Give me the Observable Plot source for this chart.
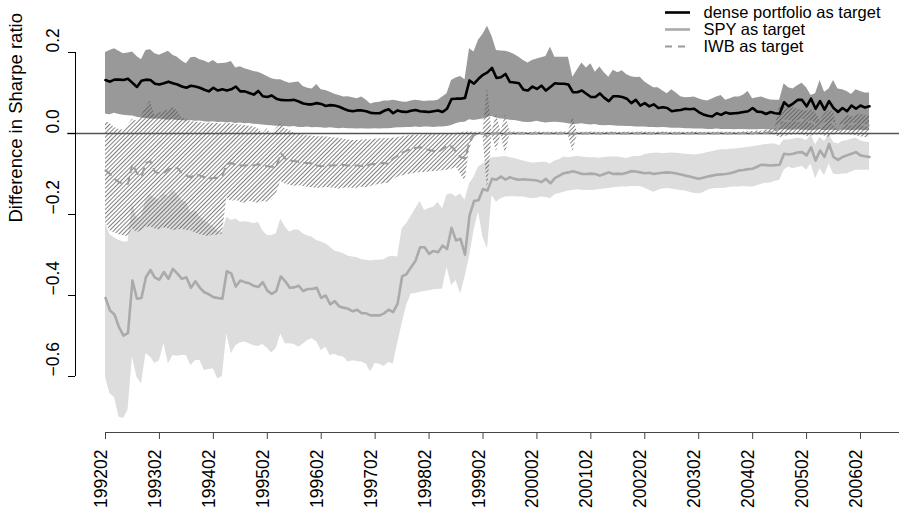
<!DOCTYPE html>
<html><head><meta charset="utf-8">
<script src="https://cdn.jsdelivr.net/npm/d3@7"></script>
<script src="https://cdn.jsdelivr.net/npm/@observablehq/plot@0.6"></script>
<style>html,body{margin:0;padding:0;background:#fff;} #chart svg{display:block}</style>
</head><body><div id="chart"></div>
<script>
// Monthly observations, 1992-02 (index 0) to 2006-04 (index 170)
const dense = [
0.132,0.128,0.133,0.133,0.132,0.135,0.125,0.115,0.130,0.133,
0.132,0.123,0.121,0.124,0.128,0.124,0.121,0.116,0.113,0.118,
0.116,0.113,0.108,0.104,0.113,0.106,0.109,0.106,0.109,0.116,
0.104,0.104,0.100,0.096,0.105,0.092,0.090,0.094,0.086,0.083,
0.082,0.082,0.083,0.079,0.074,0.072,0.072,0.075,0.073,0.068,
0.070,0.069,0.066,0.061,0.057,0.055,0.057,0.057,0.055,0.051,
0.050,0.050,0.056,0.060,0.050,0.057,0.054,0.053,0.056,0.058,
0.055,0.054,0.053,0.055,0.057,0.053,0.061,0.085,0.086,0.086,
0.088,0.131,0.123,0.135,0.145,0.151,0.162,0.137,0.139,0.147,
0.127,0.126,0.124,0.108,0.106,0.116,0.110,0.118,0.106,0.115,
0.124,0.123,0.123,0.121,0.102,0.102,0.106,0.098,0.090,0.090,
0.099,0.088,0.080,0.092,0.092,0.090,0.086,0.075,0.083,0.069,
0.075,0.067,0.072,0.063,0.065,0.063,0.055,0.057,0.058,0.061,
0.060,0.061,0.053,0.047,0.044,0.042,0.050,0.046,0.052,0.049,
0.050,0.051,0.053,0.055,0.063,0.054,0.053,0.048,0.053,0.050,
0.049,0.077,0.067,0.074,0.083,0.083,0.067,0.086,0.061,0.080,
0.059,0.080,0.063,0.053,0.063,0.055,0.069,0.061,0.069,0.064,
0.067];
const denseHi = [
0.200,0.205,0.209,0.203,0.197,0.199,0.201,0.190,0.182,0.205,
0.207,0.197,0.193,0.198,0.203,0.193,0.188,0.179,0.172,0.187,
0.188,0.182,0.179,0.174,0.180,0.172,0.173,0.174,0.178,0.162,
0.165,0.160,0.157,0.153,0.151,0.146,0.141,0.135,0.133,0.133,
0.128,0.124,0.126,0.127,0.116,0.112,0.110,0.121,0.108,0.106,
0.102,0.097,0.094,0.090,0.091,0.088,0.086,0.090,0.083,0.073,
0.076,0.077,0.080,0.080,0.082,0.080,0.078,0.077,0.080,0.082,
0.081,0.079,0.080,0.080,0.082,0.090,0.098,0.131,0.137,0.141,
0.133,0.209,0.201,0.230,0.245,0.265,0.240,0.205,0.204,0.203,
0.200,0.195,0.188,0.180,0.174,0.180,0.184,0.187,0.190,0.213,
0.188,0.188,0.188,0.188,0.139,0.157,0.174,0.162,0.172,0.151,
0.164,0.150,0.139,0.156,0.150,0.155,0.145,0.140,0.138,0.139,
0.127,0.120,0.113,0.113,0.105,0.098,0.108,0.100,0.091,0.088,
0.089,0.090,0.086,0.082,0.080,0.085,0.090,0.094,0.082,0.086,
0.090,0.090,0.095,0.104,0.086,0.088,0.090,0.086,0.083,0.082,
0.082,0.123,0.113,0.110,0.118,0.124,0.113,0.094,0.098,0.131,
0.102,0.110,0.131,0.110,0.108,0.104,0.096,0.108,0.104,0.100,
0.100];
const denseLo = [
0.048,0.046,0.050,0.047,0.045,0.044,0.043,0.040,0.038,0.037,
0.036,0.035,0.036,0.034,0.033,0.034,0.032,0.032,0.031,0.032,
0.030,0.031,0.029,0.028,0.029,0.027,0.028,0.026,0.027,0.025,
0.026,0.024,0.025,0.023,0.022,0.021,0.020,0.019,0.018,0.018,
0.017,0.016,0.017,0.015,0.015,0.016,0.014,0.015,0.014,0.013,
0.014,0.013,0.012,0.013,0.012,0.012,0.011,0.012,0.011,0.011,
0.012,0.011,0.012,0.012,0.013,0.014,0.014,0.015,0.015,0.016,
0.015,0.016,0.016,0.015,0.016,0.016,0.017,0.020,0.024,0.027,
0.028,0.034,0.032,0.034,0.036,0.040,0.042,0.038,0.036,0.035,
0.033,0.032,0.030,0.028,0.027,0.028,0.030,0.028,0.026,0.027,
0.028,0.027,0.026,0.024,0.022,0.023,0.024,0.022,0.021,0.022,
0.020,0.019,0.020,0.019,0.018,0.018,0.017,0.017,0.016,0.016,
0.016,0.015,0.015,0.014,0.015,0.014,0.013,0.013,0.013,0.012,
0.012,0.011,0.011,0.011,0.010,0.010,0.011,0.010,0.010,0.010,
0.009,0.010,0.010,0.009,0.009,0.009,0.010,0.009,0.009,0.008,
0.008,0.010,0.008,0.008,0.009,0.008,0.008,0.007,0.008,0.009,
0.007,0.008,0.008,0.007,0.008,0.008,0.007,0.008,0.008,0.007,
0.008];
const spy = [
-0.406,-0.437,-0.447,-0.478,-0.499,-0.493,-0.363,-0.408,-0.406,-0.355,
-0.337,-0.356,-0.361,-0.342,-0.359,-0.334,-0.346,-0.359,-0.355,-0.381,
-0.365,-0.381,-0.392,-0.397,-0.404,-0.406,-0.408,-0.340,-0.346,-0.378,
-0.363,-0.367,-0.370,-0.376,-0.379,-0.367,-0.388,-0.396,-0.389,-0.353,
-0.365,-0.381,-0.380,-0.376,-0.389,-0.384,-0.384,-0.381,-0.406,-0.400,
-0.422,-0.414,-0.427,-0.430,-0.433,-0.439,-0.435,-0.444,-0.444,-0.449,
-0.449,-0.449,-0.444,-0.435,-0.441,-0.420,-0.353,-0.347,-0.330,-0.314,
-0.281,-0.281,-0.297,-0.290,-0.293,-0.277,-0.285,-0.233,-0.264,-0.260,
-0.299,-0.203,-0.167,-0.165,-0.137,-0.141,-0.112,-0.114,-0.106,-0.114,
-0.108,-0.112,-0.114,-0.113,-0.114,-0.115,-0.116,-0.120,-0.112,-0.123,
-0.110,-0.104,-0.098,-0.096,-0.093,-0.096,-0.100,-0.100,-0.099,-0.100,
-0.104,-0.100,-0.096,-0.100,-0.099,-0.100,-0.097,-0.093,-0.094,-0.096,
-0.098,-0.097,-0.100,-0.098,-0.097,-0.096,-0.097,-0.099,-0.101,-0.104,
-0.106,-0.109,-0.112,-0.109,-0.106,-0.104,-0.102,-0.101,-0.100,-0.098,
-0.095,-0.091,-0.090,-0.088,-0.087,-0.082,-0.077,-0.078,-0.079,-0.078,
-0.077,-0.050,-0.052,-0.050,-0.047,-0.046,-0.054,-0.034,-0.067,-0.042,
-0.058,-0.026,-0.058,-0.065,-0.058,-0.054,-0.050,-0.046,-0.054,-0.056,
-0.058];
const spyHi = [
-0.222,-0.250,-0.258,-0.264,-0.268,-0.268,-0.174,-0.210,-0.205,-0.165,
-0.150,-0.160,-0.165,-0.150,-0.155,-0.140,-0.150,-0.165,-0.170,-0.195,
-0.190,-0.205,-0.215,-0.222,-0.230,-0.240,-0.244,-0.207,-0.215,-0.211,
-0.219,-0.218,-0.219,-0.223,-0.219,-0.240,-0.252,-0.252,-0.248,-0.211,
-0.231,-0.244,-0.238,-0.238,-0.248,-0.253,-0.256,-0.264,-0.268,-0.272,
-0.281,-0.290,-0.293,-0.297,-0.303,-0.305,-0.307,-0.311,-0.313,-0.315,
-0.313,-0.313,-0.312,-0.305,-0.303,-0.305,-0.235,-0.223,-0.205,-0.186,
-0.168,-0.190,-0.185,-0.182,-0.170,-0.186,-0.152,-0.149,-0.157,-0.149,
-0.165,-0.124,-0.108,-0.083,-0.075,-0.067,-0.060,-0.059,-0.058,-0.057,
-0.060,-0.062,-0.065,-0.068,-0.071,-0.073,-0.072,-0.071,-0.071,-0.075,
-0.068,-0.065,-0.058,-0.060,-0.058,-0.057,-0.058,-0.059,-0.060,-0.060,
-0.061,-0.059,-0.058,-0.058,-0.058,-0.060,-0.062,-0.058,-0.057,-0.057,
-0.052,-0.050,-0.049,-0.048,-0.050,-0.049,-0.048,-0.049,-0.050,-0.051,
-0.052,-0.053,-0.052,-0.050,-0.047,-0.045,-0.042,-0.040,-0.040,-0.039,
-0.038,-0.037,-0.036,-0.034,-0.033,-0.031,-0.029,-0.027,-0.026,-0.026,
-0.030,-0.016,-0.016,-0.014,-0.012,-0.013,-0.018,-0.004,-0.028,-0.010,
-0.020,-0.002,-0.022,-0.026,-0.020,-0.018,-0.014,-0.012,-0.018,-0.021,
-0.022];
const spyLo = [
-0.602,-0.643,-0.651,-0.700,-0.704,-0.684,-0.552,-0.602,-0.618,-0.544,
-0.552,-0.568,-0.561,-0.519,-0.569,-0.548,-0.550,-0.548,-0.548,-0.573,
-0.561,-0.560,-0.585,-0.583,-0.581,-0.606,-0.600,-0.495,-0.544,-0.524,
-0.517,-0.515,-0.519,-0.524,-0.526,-0.521,-0.530,-0.542,-0.530,-0.495,
-0.519,-0.519,-0.521,-0.528,-0.520,-0.511,-0.507,-0.515,-0.536,-0.528,
-0.548,-0.545,-0.550,-0.552,-0.564,-0.561,-0.563,-0.564,-0.569,-0.589,
-0.567,-0.570,-0.575,-0.565,-0.570,-0.520,-0.470,-0.425,-0.396,-0.395,
-0.392,-0.390,-0.388,-0.386,-0.385,-0.384,-0.330,-0.375,-0.363,-0.396,
-0.355,-0.305,-0.240,-0.194,-0.256,-0.285,-0.153,-0.170,-0.161,-0.157,
-0.156,-0.156,-0.157,-0.157,-0.159,-0.161,-0.160,-0.157,-0.158,-0.161,
-0.151,-0.148,-0.145,-0.142,-0.141,-0.139,-0.140,-0.141,-0.141,-0.140,
-0.138,-0.137,-0.136,-0.134,-0.133,-0.132,-0.132,-0.131,-0.131,-0.131,
-0.135,-0.140,-0.145,-0.140,-0.137,-0.136,-0.137,-0.139,-0.141,-0.142,
-0.145,-0.148,-0.149,-0.146,-0.140,-0.137,-0.136,-0.136,-0.135,-0.133,
-0.132,-0.132,-0.131,-0.132,-0.132,-0.129,-0.125,-0.123,-0.122,-0.118,
-0.116,-0.091,-0.083,-0.087,-0.084,-0.081,-0.091,-0.075,-0.112,-0.087,
-0.104,-0.075,-0.100,-0.102,-0.100,-0.100,-0.095,-0.091,-0.091,-0.091,
-0.091];
const iwb = [
-0.091,-0.100,-0.112,-0.120,-0.124,-0.124,-0.075,-0.098,-0.106,-0.073,
-0.068,-0.095,-0.098,-0.097,-0.089,-0.086,-0.085,-0.098,-0.104,-0.108,
-0.101,-0.104,-0.108,-0.112,-0.110,-0.109,-0.104,-0.075,-0.073,-0.077,
-0.079,-0.079,-0.078,-0.079,-0.076,-0.079,-0.081,-0.082,-0.083,-0.048,
-0.062,-0.067,-0.068,-0.070,-0.073,-0.073,-0.074,-0.079,-0.081,-0.079,
-0.079,-0.079,-0.077,-0.078,-0.079,-0.079,-0.079,-0.080,-0.081,-0.076,
-0.075,-0.074,-0.073,-0.075,-0.062,-0.055,-0.048,-0.042,-0.039,-0.036,
-0.034,-0.038,-0.041,-0.043,-0.046,-0.038,-0.030,-0.032,-0.045,-0.058,
-0.062,-0.020,-0.004,0.000,0.001,-0.008,0.000,0.001,0.000,-0.001,
0.000,0.001,0.000,0.000,-0.001,0.000,0.000,0.001,0.000,0.000,
0.000,0.000,0.001,0.000,-0.002,0.000,0.000,0.000,0.001,0.000,
0.000,0.000,0.000,0.001,0.000,0.000,0.000,0.000,0.000,0.001,
0.000,0.000,0.000,0.000,0.001,0.000,0.000,0.000,0.000,0.000,
0.000,0.001,0.000,0.000,0.000,0.000,0.000,0.001,0.000,0.000,
0.000,0.000,0.001,0.000,0.000,0.002,0.001,0.002,0.003,0.004,
0.025,0.032,0.030,0.032,0.030,0.034,0.028,0.030,0.022,0.016,
0.025,0.028,0.026,0.006,0.022,0.024,0.022,0.025,0.024,0.020,
0.020];
const iwbHi = [
0.030,0.025,0.015,0.010,0.008,0.020,0.035,0.030,0.044,0.065,
0.080,0.045,0.050,0.055,0.058,0.065,0.056,0.039,0.034,0.030,
0.028,0.027,0.025,0.026,0.024,0.025,0.023,0.025,0.024,0.022,
0.021,0.020,0.018,0.016,0.012,0.000,0.012,-0.004,0.012,0.024,
0.012,0.008,0.000,-0.002,-0.004,-0.006,-0.006,-0.008,-0.008,-0.008,
-0.010,-0.011,-0.012,-0.014,-0.016,-0.017,-0.017,-0.016,-0.015,-0.016,
-0.014,-0.013,-0.012,-0.013,-0.012,-0.010,-0.008,-0.006,-0.005,-0.004,
-0.004,-0.003,-0.003,-0.002,-0.002,-0.001,0.000,0.000,0.000,0.002,
0.004,0.004,0.003,0.003,0.004,0.116,0.004,0.048,0.004,0.046,
0.003,0.004,0.003,0.003,0.002,0.003,0.004,0.003,0.003,0.003,
0.003,0.003,0.004,0.003,0.040,0.003,0.003,0.003,0.004,0.003,
0.003,0.003,0.003,0.004,0.003,0.003,0.003,0.003,0.003,0.004,
0.003,0.003,0.003,0.003,0.004,0.003,0.003,0.003,0.003,0.003,
0.003,0.004,0.003,0.003,0.003,0.003,0.003,0.004,0.003,0.003,
0.003,0.003,0.004,0.004,0.005,0.006,0.006,0.008,0.010,0.012,
0.073,0.065,0.062,0.065,0.060,0.057,0.055,0.060,0.052,0.032,
0.049,0.057,0.053,0.010,0.036,0.045,0.041,0.044,0.049,0.044,
0.044];
const iwbLo = [
-0.220,-0.240,-0.245,-0.250,-0.252,-0.255,-0.235,-0.245,-0.240,-0.232,
-0.230,-0.236,-0.238,-0.233,-0.235,-0.240,-0.238,-0.236,-0.240,-0.240,
-0.245,-0.250,-0.252,-0.255,-0.250,-0.252,-0.248,-0.160,-0.168,-0.165,
-0.170,-0.172,-0.168,-0.170,-0.172,-0.168,-0.170,-0.165,-0.150,-0.118,
-0.125,-0.128,-0.130,-0.129,-0.131,-0.133,-0.134,-0.136,-0.135,-0.133,
-0.134,-0.136,-0.137,-0.135,-0.134,-0.136,-0.135,-0.133,-0.134,-0.131,
-0.128,-0.125,-0.124,-0.123,-0.115,-0.108,-0.105,-0.102,-0.100,-0.098,
-0.097,-0.096,-0.095,-0.094,-0.093,-0.092,-0.091,-0.088,-0.083,-0.100,
-0.118,-0.040,-0.008,-0.004,-0.004,-0.141,-0.004,-0.045,-0.004,-0.050,
-0.003,-0.004,-0.003,-0.003,-0.004,-0.003,-0.003,-0.004,-0.003,-0.003,
-0.003,-0.004,-0.003,-0.003,-0.045,-0.003,-0.004,-0.003,-0.003,-0.003,
-0.004,-0.003,-0.003,-0.003,-0.003,-0.004,-0.003,-0.003,-0.003,-0.004,
-0.003,-0.003,-0.004,-0.003,-0.003,-0.003,-0.003,-0.004,-0.003,-0.003,
-0.003,-0.003,-0.003,-0.004,-0.003,-0.003,-0.003,-0.003,-0.004,-0.003,
-0.003,-0.003,-0.003,-0.004,-0.003,-0.003,-0.003,-0.003,-0.003,-0.004,
-0.010,-0.008,-0.005,-0.004,-0.003,-0.004,-0.008,-0.006,-0.004,-0.003,
-0.006,-0.010,-0.004,-0.002,-0.004,-0.003,-0.004,-0.006,-0.008,-0.010,
-0.010];

const tickIndex = [0,12,24,36,48,60,72,84,96,108,120,132,144,156,168];
const tickLabels = ["199202","199302","199402","199502","199602","199702","199802","199902","200002","200102","200202","200302","200402","200502","200602"];
const yTicks = [0.2, 0.0, -0.2, -0.4, -0.6];
const yTickLabels = ["0.2","0.0","\u22120.2","\u22120.4","\u22120.6"];
const legendLabels = ["dense portfolio as target","SPY as target","IWB as target"];
const yLabel = "Difference in Sharpe ratio";

// ---- layout ----
const W = 899, H = 508, ML = 75, MR = 0, MT = 52, MB = 76;
const pxPerMonth = 755 / 168;           // 199202 at px 105, 200602 at px 860
const xDomain = [-(105 - ML) / pxPerMonth, (W - MR - 105) / pxPerMonth];
const yDomain = [-(432 - 133) / 405, (133 - MT) / 405];
const pxPerUnit = (H - MB - MT) / (yDomain[1] - yDomain[0]);
const xOf = px => xDomain[0] + (px - ML) / pxPerMonth;
const yOf = py => yDomain[1] - (py - MT) / pxPerUnit;

const data = dense.map((d, i) => ({
  m: i, dense: d, denseHi: denseHi[i], denseLo: denseLo[i],
  spy: spy[i], spyHi: spyHi[i], spyLo: spyLo[i],
  iwb: iwb[i], iwbHi: iwbHi[i], iwbLo: iwbLo[i]
}));

const font = "'Liberation Sans', Arial, Helvetica, sans-serif";
const FS = 17.5;
const LFS = 16.5;
const legendRows = [12, 29, 46];
const legendStyles = [
  {stroke: "#000", strokeWidth: 2.6},
  {stroke: "#aaaaaa", strokeWidth: 2.6},
  {stroke: "#9a9a9a", strokeWidth: 2, strokeDasharray: "7,6"}
];

const marks = [
  Plot.areaY(data, {x: "m", y1: "denseLo", y2: "denseHi", fill: "#999999"}),
  Plot.areaY(data, {x: "m", y1: "spyLo", y2: "spyHi", fill: "#dddddd"}),
  Plot.areaY(data, {x: "m", y1: "iwbLo", y2: "iwbHi", fill: "url(#hatch)"}),
  Plot.ruleY([0], {x1: xOf(67), x2: xDomain[1], stroke: "#555", strokeWidth: 1.3}),
  Plot.line(data, {x: "m", y: "iwb", stroke: "#9a9a9a", strokeWidth: 2, strokeDasharray: "7,6"}),
  Plot.line(data, {x: "m", y: "spy", stroke: "#aaaaaa", strokeWidth: 2.6}),
  Plot.line(data, {x: "m", y: "dense", stroke: "#000", strokeWidth: 2.6}),
  // y axis
  Plot.ruleX([xDomain[0]], {y1: -0.6, y2: 0.2, stroke: "#000"}),
  Plot.ruleY(yTicks, {x1: xOf(68), x2: xDomain[0], stroke: "#000"}),
  Plot.text(yTicks, {y: d => d, text: (d, i) => yTickLabels[i], frameAnchor: "left", rotate: -90, dx: -22, fontSize: FS, fill: "#000"}),
  Plot.text([yLabel], {frameAnchor: "left", rotate: -90, dx: -59, dy: -20, fontSize: 18.5, fill: "#000"}),
  // x axis
  Plot.ruleY([yDomain[0]], {x1: 0, x2: xDomain[1], stroke: "#444"}),
  Plot.ruleX(tickIndex, {y1: yDomain[0], y2: yOf(439), stroke: "#444"}),
  Plot.text(tickIndex, {x: d => d, text: (d, i) => tickLabels[i], frameAnchor: "bottom", rotate: -90, textAnchor: "end", dy: 17, dx: 1.5, fontSize: FS, fill: "#000"})
];
legendLabels.forEach((lab, i) => {
  marks.push(Plot.ruleY([yOf(legendRows[i])], {x1: xOf(665), x2: xOf(690), ...legendStyles[i]}));
  marks.push(Plot.text([lab], {x: xOf(703), y: yOf(legendRows[i]), textAnchor: "start", fontSize: LFS, fill: "#000"}));
});

const chart = Plot.plot({
  width: W, height: H,
  marginLeft: ML, marginRight: MR, marginTop: MT, marginBottom: MB,
  x: {domain: xDomain, axis: null},
  y: {domain: yDomain, axis: null},
  style: {fontFamily: font, background: "#fff", overflow: "hidden"},
  marks
});

// hatch pattern for the IWB band
const ns = "http://www.w3.org/2000/svg";
const defs = document.createElementNS(ns, "defs");
const pat = document.createElementNS(ns, "pattern");
pat.setAttribute("id", "hatch");
pat.setAttribute("patternUnits", "userSpaceOnUse");
pat.setAttribute("width", "3");
pat.setAttribute("height", "3");
pat.setAttribute("patternTransform", "rotate(45)");
const ln = document.createElementNS(ns, "line");
ln.setAttribute("x1", "0"); ln.setAttribute("y1", "0");
ln.setAttribute("x2", "0"); ln.setAttribute("y2", "3");
ln.setAttribute("stroke", "#555");
ln.setAttribute("stroke-width", "1.5");
pat.appendChild(ln);
defs.appendChild(pat);
chart.insertBefore(defs, chart.firstChild);

document.getElementById("chart").appendChild(chart);
</script>
</body></html>
